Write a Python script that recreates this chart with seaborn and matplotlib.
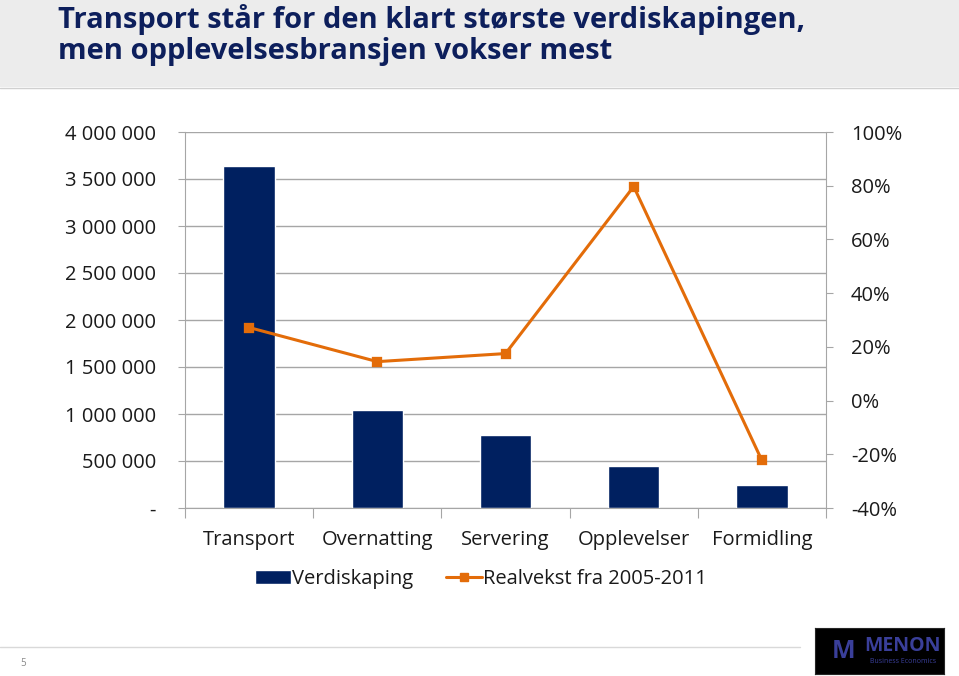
import numpy as np
import pandas as pd
import matplotlib
matplotlib.use("Agg")
import matplotlib.pyplot as plt
import seaborn as sns
from matplotlib.patches import Rectangle
from matplotlib.lines import Line2D
from matplotlib.ticker import FixedLocator, FuncFormatter

# data
categories = ["Transport", "Overnatting", "Servering", "Opplevelser", "Formidling"]
verdiskaping = [3640000, 1045000, 780000, 450000, 245000]
realvekst = [27.2, 14.5, 17.5, 79.7, -22.3]

left_ticks = [0, 500000, 1000000, 1500000, 2000000, 2500000, 3000000, 3500000, 4000000]
right_ticks = [-40, -20, 0, 20, 40, 60, 80, 100]

title = "Transport står for den klart største verdiskapingen,\nmen opplevelsesbransjen vokser mest"

NAVY = "#002060"
ORANGE = "#E36C09"
GRID = "#a6a6a6"
TXT = "#1a1a1a"
FS = 14.5

sns.set_style("white")
plt.rcParams["font.family"] = ["Open Sans", "DejaVu Sans"]

fig = plt.figure(figsize=(9.59, 6.76), dpi=100)

# title band
fig.patches.append(Rectangle((0, 1 - 87 / 676), 1, 87 / 676, transform=fig.transFigure,
                             facecolor="#ececec", edgecolor="none", zorder=0))
fig.add_artist(Line2D([0, 1], [1 - 88 / 676] * 2, color="#d0d0d0", lw=1))
fig.text(58 / 959, 1 - 35 / 676, title, fontsize=21, fontweight="bold", color="#0d1f5c",
         va="center", ha="left", linespacing=1.1,
         family=["Liberation Sans Narrow", "Open Sans", "DejaVu Sans"])

ax = fig.add_axes([185 / 959, 1 - 508 / 676, 641 / 959, 376 / 676])
df = pd.DataFrame({"kategori": categories, "verdi": verdiskaping, "vekst": realvekst})
sns.barplot(data=df, x="kategori", y="verdi", color=NAVY, width=0.4, saturation=1, ax=ax, zorder=2)
ax.set_ylim(0, 4000000)
ax.set_xlim(-0.5, len(categories) - 0.5)
ax.yaxis.set_major_locator(FixedLocator(left_ticks))
ax.yaxis.set_major_formatter(FuncFormatter(lambda v, p: "-" if v == 0 else f"{int(v):,}".replace(",", " ")))
ax.grid(axis="y", color=GRID, lw=1)
ax.set_axisbelow(True)
ax.set_xlabel("")
ax.set_ylabel("")
for s in ["top", "right"]:
    ax.spines[s].set_visible(False)
for s in ["left", "bottom"]:
    ax.spines[s].set_color(GRID)
ax.tick_params(axis="y", length=5, color=GRID, pad=16, labelsize=FS, labelcolor=TXT, left=True)

# category ticks at boundaries, labels at centres
ax.set_xticks(np.arange(len(categories) + 1) - 0.5)
ax.set_xticklabels([])
ax.set_xticks(np.arange(len(categories)), minor=True)
ax.set_xticklabels(categories, minor=True)
ax.tick_params(axis="x", which="major", length=7, color=GRID, bottom=True)
ax.tick_params(axis="x", which="minor", length=0, pad=16, labelsize=FS, labelcolor=TXT)

ax2 = ax.twinx()
sns.pointplot(data=df, x="kategori", y="vekst", color=ORANGE, markers="s", linestyles="-",
              ax=ax2, markersize=6, linewidth=2.2)
ax2.set_ylim(-40, 100)
ax2.set_xlim(-0.5, len(categories) - 0.5)
ax2.yaxis.set_major_locator(FixedLocator(right_ticks))
ax2.yaxis.set_major_formatter(FuncFormatter(lambda v, p: f"{int(v)}%"))
ax2.set_xlabel("")
ax2.set_ylabel("")
for s in ["top", "left", "bottom"]:
    ax2.spines[s].set_visible(False)
ax2.spines["right"].set_color(GRID)
ax2.tick_params(axis="y", length=5, color=GRID, pad=13, labelsize=FS, labelcolor=TXT, right=True)
ax2.grid(False)

handles = [Rectangle((0, 0), 1, 1, facecolor=NAVY),
           Line2D([], [], color=ORANGE, lw=2.2, marker="s", markersize=6)]
fig.legend(handles, ["Verdiskaping", "Realvekst fra 2005-2011"], loc="center",
           bbox_to_anchor=(481 / 959, 1 - 579 / 676), ncol=2, frameon=False,
           fontsize=FS, handlelength=1.8, handletextpad=0.05, columnspacing=1.6,
           labelcolor=TXT)

# footer
fig.add_artist(Line2D([0, 800 / 959], [1 - 647 / 676] * 2, color="#d9d9d9", lw=1))
fig.text(20 / 959, 1 - 664 / 676, "5", fontsize=7, color="#8a8a8a", va="center")
logo = fig.add_axes([815 / 959, 1 - 674 / 676, 129 / 959, 46 / 676])
logo.set_facecolor("black")
logo.set_xticks([])
logo.set_yticks([])
logo.text(0.22, 0.5, "M", color="#3a3f9a", fontsize=18, fontweight="bold", ha="center", va="center")
logo.text(0.68, 0.6, "MENON", color="#3a3f9a", fontsize=14, fontweight="bold", ha="center", va="center")
logo.text(0.68, 0.28, "Business Economics", color="#3a3f9a", fontsize=5, ha="center", va="center")

fig.savefig("out.png", dpi=100)
